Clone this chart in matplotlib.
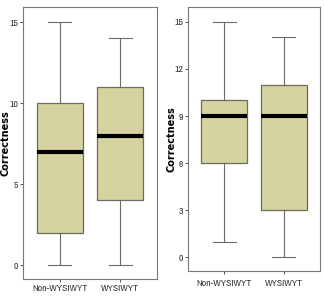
import matplotlib
matplotlib.use("Agg")
import matplotlib.pyplot as plt

groups = ["Non-WYSIWYT", "WYSIWYT"]

# five-number summaries: low whisker, q1, median, q3, high whisker
left_low = [0, 0]
left_q1 = [2, 4]
left_med = [7, 8]
left_q3 = [10, 11]
left_high = [15, 14]

right_low = [1, 0]
right_q1 = [6, 3]
right_med = [9, 9]
right_q3 = [10, 11]
right_high = [15, 14]

left_ticks = [0, 5, 10, 15]
right_ticks = [0, 3, 6, 9, 12, 15]

plt.rcParams["font.family"] = ["Archivo Narrow", "DejaVu Sans"]

BOX = "#d6d3a0"
EDGE = "#6b6b5e"


def stats(low, q1, med, q3, high):
    return [
        {"whislo": a, "q1": b, "med": c, "q3": d, "whishi": e, "label": g}
        for a, b, c, d, e, g in zip(low, q1, med, q3, high, groups)
    ]


def draw(ax, st, ticks, label_x, xpad):
    ax.bxp(
        st, positions=[1, 2], widths=0.77, showfliers=False, patch_artist=True,
        boxprops={"facecolor": BOX, "edgecolor": EDGE, "linewidth": 0.9},
        medianprops={"color": "black", "linewidth": 3},
        whiskerprops={"color": EDGE, "linewidth": 0.8},
        capprops={"color": EDGE, "linewidth": 0.8},
    )
    ax.set_xlim(0.39, 2.61)
    ax.set_ylim(-0.86, 15.94)
    ax.set_yticks(ticks)
    ax.tick_params(labelsize=7, length=2, width=0.6, colors="#333333", pad=1.5)
    ax.tick_params(axis="x", pad=xpad)
    ax.set_ylabel("Correctness", fontsize=7, fontweight="bold",
                  family=["DejaVu Sans"])
    ax.yaxis.set_label_coords(label_x, 0.5)
    for s in ax.spines.values():
        s.set_color("#777777")
        s.set_linewidth(0.8)


fig = plt.figure(figsize=(3.24, 2.96), dpi=100)
ax1 = fig.add_axes([23 / 324, 1 - 279 / 296, 134 / 324, 272 / 296])
ax2 = fig.add_axes([188 / 324, 1 - 271 / 296, 132 / 324, 264 / 296])

draw(ax1, stats(left_low, left_q1, left_med, left_q3, left_high), left_ticks, -0.095, 1.5)
draw(ax2, stats(right_low, right_q1, right_med, right_q3, right_high), right_ticks, -0.085, 4)

fig.savefig("out.png", dpi=100)
